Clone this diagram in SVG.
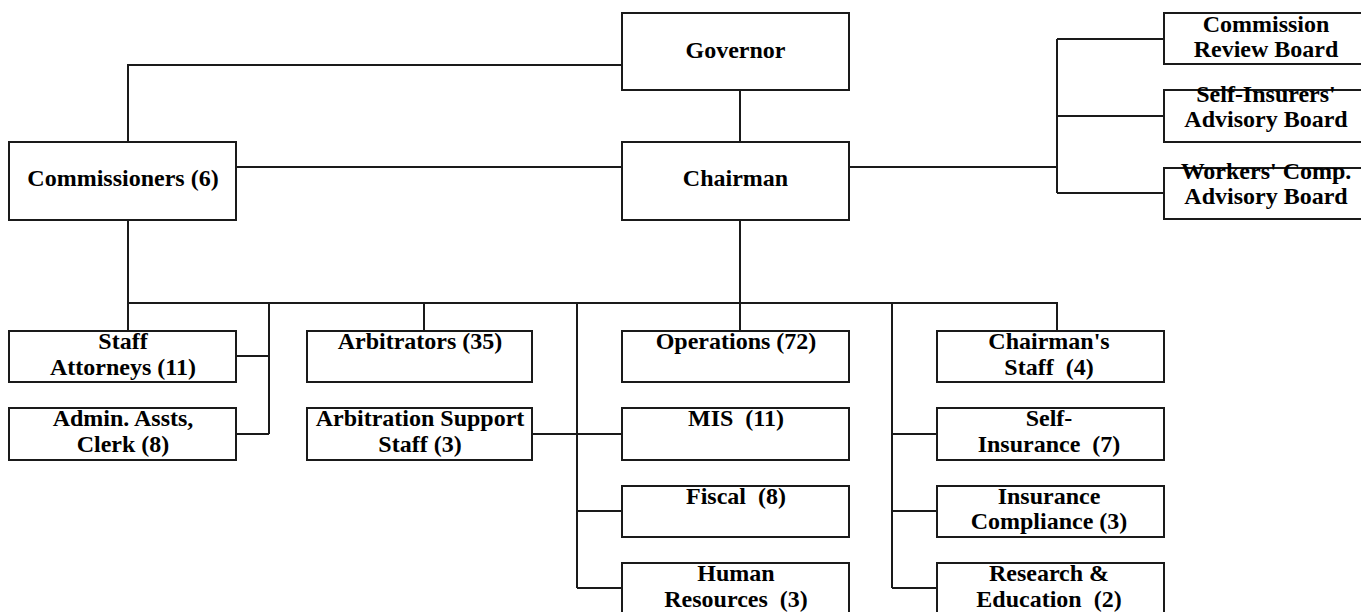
<svg xmlns="http://www.w3.org/2000/svg" width="1361" height="612" viewBox="0 0 1361 612">
<style>
rect{fill:#fff;stroke:#1a1a1a;stroke-width:2}
#connectors path{fill:none;stroke:#1a1a1a;stroke-width:2}
text{fill:#000;text-anchor:middle;white-space:pre}
</style>
<rect x="0" y="0" width="1361" height="612" style="stroke:none"/>
<g id="connectors">
<path d="M128 142V65H622"/>
<path d="M740 90V142"/>
<path d="M236 167H622"/>
<path d="M849 167H1057M1057 39V193M1057 39H1164M1057 116H1164M1057 193H1164"/>
<path d="M128 220V303H1057V331"/>
<path d="M740 220V331"/>
<path d="M128 303V331"/>
<path d="M269 303V434M236 356H269M236 434H269"/>
<path d="M424 303V331"/>
<path d="M577 303V588M532 434H622M577 511H622M577 588H622"/>
<path d="M892 303V588M892 434H937M892 511H937M892 588H937"/>
</g>
<g font-family="'Liberation Serif', serif" font-weight="bold" font-size="24">
<g id="governor"><rect x="622" y="13" width="227" height="77"/><text x="735.5" y="58">Governor</text></g>
<g id="chairman"><rect x="622" y="142" width="227" height="78"/><text x="735.5" y="186">Chairman</text></g>
<g id="commissioners"><rect x="9" y="142" width="227" height="78"/><text x="123" y="186">Commissioners (6)</text></g>
<g id="review-board"><rect x="1164" y="13" width="204" height="51"/><text x="1266" y="32">Commission</text><text x="1266" y="57">Review Board</text></g>
<g id="self-insurers-board"><rect x="1164" y="90" width="204" height="52"/><text x="1266" y="102">Self-Insurers'</text><text x="1266" y="127">Advisory Board</text></g>
<g id="workers-comp-board"><rect x="1164" y="168" width="204" height="51"/><text x="1266" y="179">Workers' Comp.</text><text x="1266" y="204">Advisory Board</text></g>
<g id="staff-attorneys"><rect x="9" y="331" width="227" height="51"/><text x="123" y="349">Staff</text><text x="123" y="375">Attorneys (11)</text></g>
<g id="admin"><rect x="9" y="408" width="227" height="52"/><text x="123" y="426">Admin. Assts,</text><text x="123" y="452">Clerk (8)</text></g>
<g id="arbitrators"><rect x="307" y="331" width="225" height="51"/><text x="420" y="349">Arbitrators (35)</text></g>
<g id="arbitration-support"><rect x="307" y="408" width="225" height="52"/><text x="420" y="426">Arbitration Support</text><text x="420" y="452">Staff (3)</text></g>
<g id="operations"><rect x="622" y="331" width="227" height="51"/><text x="736" y="349">Operations (72)</text></g>
<g id="mis"><rect x="622" y="408" width="227" height="52"/><text x="736" y="426">MIS  (11)</text></g>
<g id="fiscal"><rect x="622" y="486" width="227" height="51"/><text x="736" y="504">Fiscal  (8)</text></g>
<g id="human-resources"><rect x="622" y="563" width="227" height="51"/><text x="736" y="581">Human</text><text x="736" y="607">Resources  (3)</text></g>
<g id="chairmans-staff"><rect x="937" y="331" width="227" height="51"/><text x="1049" y="349">Chairman's</text><text x="1049" y="375">Staff  (4)</text></g>
<g id="self-insurance"><rect x="937" y="408" width="227" height="52"/><text x="1049" y="426">Self-</text><text x="1049" y="452">Insurance  (7)</text></g>
<g id="insurance-compliance"><rect x="937" y="486" width="227" height="51"/><text x="1049" y="504">Insurance</text><text x="1049" y="529">Compliance (3)</text></g>
<g id="research-education"><rect x="937" y="563" width="227" height="51"/><text x="1049" y="581">Research &amp;</text><text x="1049" y="607">Education  (2)</text></g>
</g>
</svg>
